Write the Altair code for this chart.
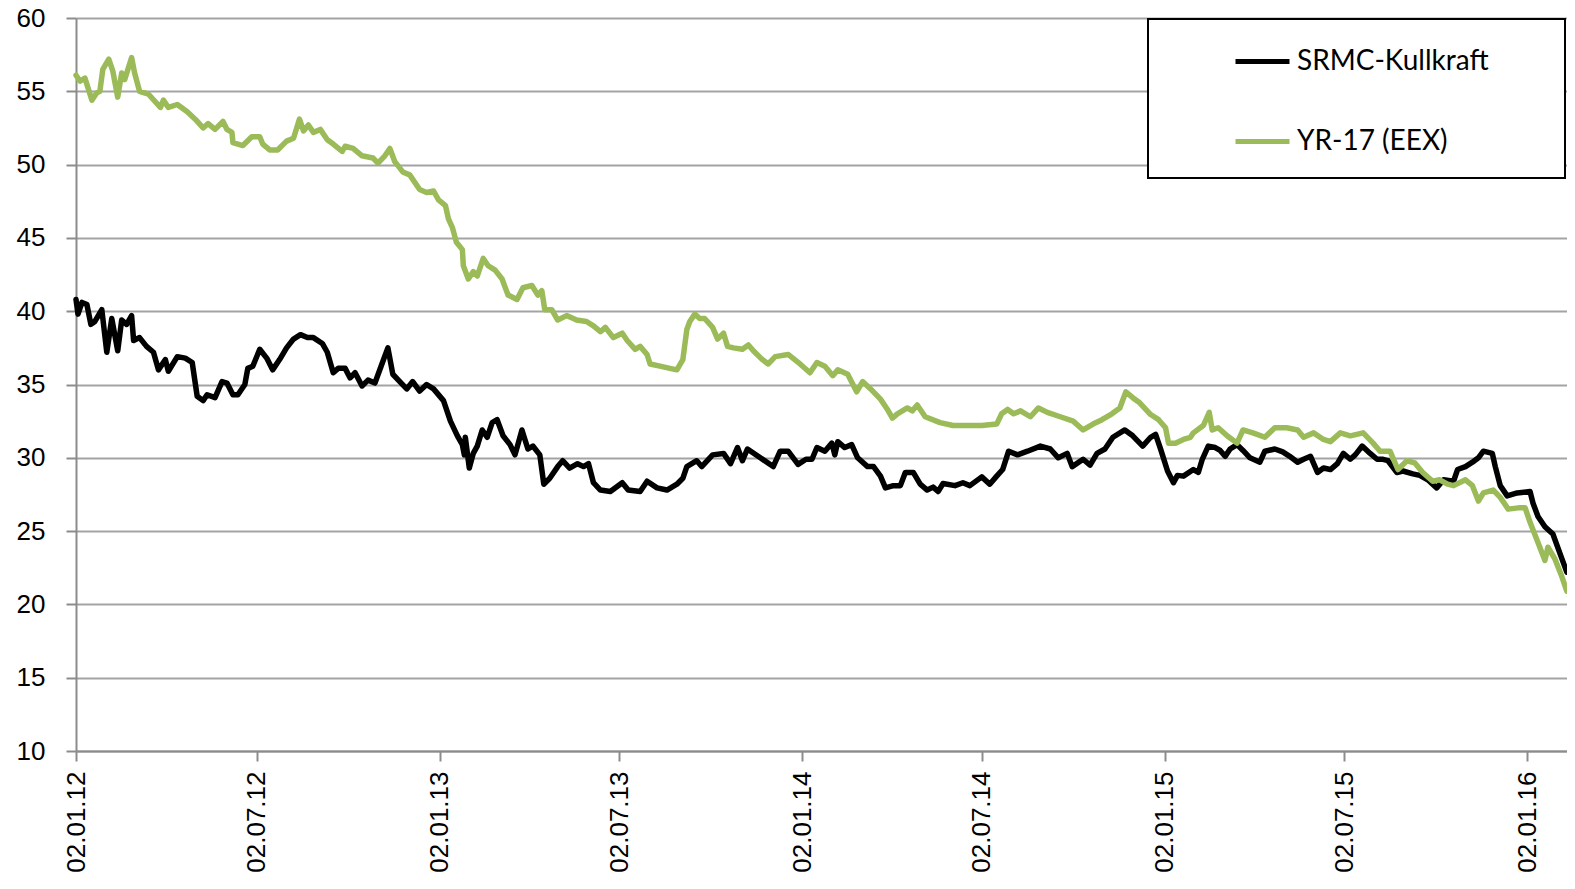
import altair as alt
import pandas as pd

START = "2012-01-02"

series_names = ["SRMC-Kullkraft", "YR-17 (EEX)"]
series_colors = ["#000000", "#9BBB59"]

# days after 02.01.2012 and values
srmc_days = [0, 2, 6, 11, 15, 19, 26, 31, 36, 42, 46, 51, 56, 58, 64, 71, 78, 83, 90, 93,
             102, 110, 117, 122, 128, 132, 140, 147, 152, 158, 163, 170, 173, 178, 185, 192, 198, 205, 212, 219,
             226, 233, 239, 248, 253, 259, 264, 271, 276, 281, 288, 294, 301, 308, 314, 319, 326, 333, 339, 346,
             353, 360, 370, 377, 384, 389, 391, 392, 396, 400, 404, 409, 414, 419, 424, 430, 437, 442, 449, 455,
             460, 467, 471, 477, 485, 490, 497, 505, 511, 516, 521, 528, 538, 550, 556, 568, 575, 585, 595, 605,
             611, 615, 625, 630, 641, 652, 659, 666, 671, 676, 689, 702, 709, 717, 727, 735, 741, 746, 754, 761,
             764, 767, 774, 781, 787, 797, 803, 810, 815, 823, 830, 835, 843, 850, 857, 863, 868, 873, 885, 893,
             900, 912, 920, 927, 933, 939, 948, 958, 971, 981, 989, 998, 1003, 1014, 1021, 1028, 1036, 1044, 1056, 1064,
             1074, 1082, 1087, 1092, 1099, 1105, 1109, 1115, 1125, 1130, 1134, 1140, 1147, 1152, 1157, 1162, 1169, 1175, 1182, 1192,
             1197, 1207, 1215, 1222, 1230, 1236, 1243, 1250, 1256, 1263, 1270, 1276, 1283, 1288, 1295, 1303, 1310, 1316, 1321, 1330,
             1336, 1346, 1353, 1361, 1370, 1377, 1387, 1391, 1399, 1406, 1412, 1417, 1426, 1429, 1434, 1441, 1451, 1464, 1467, 1472,
             1479, 1487, 1494, 1501, 1504, 1507]
srmc_vals = [40.8, 39.8, 40.6, 40.45, 39.1, 39.3, 40.1, 37.2, 39.5, 37.3, 39.4, 39.1, 39.7, 38.0, 38.2, 37.6, 37.2, 36.0, 36.7, 35.9,
             36.9, 36.8, 36.5, 34.2, 33.9, 34.3, 34.1, 35.2, 35.1, 34.3, 34.3, 35.0, 36.1, 36.25, 37.4, 36.8, 36.0, 36.7, 37.5, 38.1,
             38.4, 38.2, 38.2, 37.8, 37.2, 35.8, 36.1, 36.1, 35.45, 35.8, 34.9, 35.3, 35.1, 36.4, 37.5, 35.7, 35.2, 34.7, 35.2, 34.55,
             35.0, 34.7, 33.9, 32.5, 31.5, 30.9, 30.2, 31.4, 29.3, 30.3, 30.8, 31.9, 31.4, 32.4, 32.6, 31.5, 30.9, 30.2, 31.9, 30.6,
             30.8, 30.2, 28.2, 28.6, 29.4, 29.8, 29.3, 29.6, 29.4, 29.6, 28.3, 27.8, 27.7, 28.3, 27.8, 27.7, 28.4, 27.95, 27.8, 28.2,
             28.6, 29.4, 29.8, 29.4, 30.2, 30.3, 29.6, 30.7, 29.8, 30.6, 30.0, 29.4, 30.45, 30.45, 29.55, 29.9, 29.9, 30.7, 30.45, 31.0,
             30.2, 31.1, 30.7, 30.9, 30.0, 29.4, 29.4, 28.75, 27.95, 28.1, 28.1, 29.0, 29.0, 28.2, 27.8, 28.0, 27.7, 28.25, 28.1, 28.3,
             28.1, 28.7, 28.2, 28.75, 29.2, 30.45, 30.2, 30.45, 30.8, 30.6, 30.0, 30.3, 29.4, 29.9, 29.5, 30.3, 30.6, 31.4, 31.9, 31.5,
             30.8, 31.4, 31.6, 30.6, 29.1, 28.3, 28.8, 28.75, 29.2, 29.0, 29.9, 30.8, 30.7, 30.5, 30.1, 30.6, 30.9, 30.5, 30.0, 29.7,
             30.45, 30.6, 30.4, 30.1, 29.7, 29.9, 30.1, 29.0, 29.3, 29.2, 29.6, 30.3, 29.9, 30.2, 30.8, 30.3, 29.9, 29.9, 29.8, 29.0,
             29.1, 28.9, 28.8, 28.5, 27.95, 28.5, 28.4, 29.2, 29.4, 29.7, 30.0, 30.45, 30.3, 29.4, 28.1, 27.4, 27.6, 27.7, 26.9, 26.0,
             25.3, 24.8, 23.5, 22.2, 22.7, 22.5]

yr17_days = [0, 4, 9, 16, 21, 24, 27, 33, 37, 42, 46, 49, 56, 59, 64, 73, 85, 88, 93, 102,
             112, 120, 128, 133, 140, 148, 152, 157, 158, 168, 177, 185, 188, 195, 203, 212, 219, 225, 229, 234,
             239, 246, 253, 259, 268, 271, 279, 288, 299, 304, 311, 316, 321, 329, 336, 346, 353, 360, 365, 372,
             375, 379, 383, 389, 390, 395, 400, 404, 410, 415, 422, 429, 435, 444, 450, 459, 465, 469, 472, 479,
             485, 494, 504, 514, 521, 528, 533, 541, 550, 555, 563, 568, 575, 578, 588, 598, 605, 611, 615, 618,
             623, 628, 633, 641, 646, 652, 656, 662, 671, 677, 682, 691, 697, 704, 717, 729, 739, 746, 754, 762,
             767, 777, 786, 792, 800, 810, 817, 822, 827, 837, 842, 847, 855, 870, 883, 897, 912, 927, 932, 938,
             944, 951, 961, 969, 978, 991, 1004, 1014, 1024, 1033, 1043, 1051, 1057, 1064, 1071, 1082, 1090, 1097, 1100, 1107,
             1115, 1122, 1125, 1135, 1141, 1144, 1150, 1159, 1169, 1175, 1185, 1197, 1207, 1219, 1230, 1236, 1246, 1256, 1263, 1273,
             1283, 1296, 1306, 1313, 1323, 1331, 1340, 1348, 1356, 1366, 1373, 1381, 1387, 1399, 1406, 1412, 1417, 1427, 1434, 1442,
             1454, 1459, 1464, 1471, 1479, 1482, 1489, 1496, 1501, 1507]
yr17_vals = [56.1, 55.7, 55.9, 54.4, 54.9, 55.0, 56.5, 57.2, 56.4, 54.6, 56.25, 55.8, 57.3, 56.25, 55.0, 54.8, 53.9, 54.4, 53.9, 54.1,
             53.6, 53.1, 52.5, 52.8, 52.4, 52.95, 52.4, 52.2, 51.5, 51.3, 51.9, 51.9, 51.4, 51.0, 51.0, 51.6, 51.8, 53.1, 52.3, 52.7,
             52.2, 52.4, 51.7, 51.4, 50.9, 51.25, 51.1, 50.6, 50.45, 50.1, 50.6, 51.1, 50.2, 49.5, 49.3, 48.3, 48.1, 48.2, 47.6, 47.2,
             46.3, 45.7, 44.7, 44.2, 43.1, 42.2, 42.7, 42.4, 43.6, 43.1, 42.8, 42.2, 41.1, 40.8, 41.6, 41.75, 41.1, 41.4, 40.1, 40.1,
             39.4, 39.7, 39.4, 39.3, 39.0, 38.6, 38.9, 38.2, 38.5, 38.0, 37.4, 37.6, 37.05, 36.4, 36.25, 36.1, 36.0, 36.7, 38.75, 39.3,
             39.8, 39.5, 39.5, 38.9, 38.1, 38.5, 37.6, 37.5, 37.4, 37.7, 37.3, 36.7, 36.4, 36.9, 37.05, 36.4, 35.8, 36.5, 36.25, 35.6,
             36.0, 35.7, 34.5, 35.2, 34.7, 34.0, 33.3, 32.7, 33.0, 33.4, 33.2, 33.6, 32.8, 32.4, 32.2, 32.2, 32.2, 32.3, 33.0, 33.3,
             33.0, 33.2, 32.8, 33.4, 33.1, 32.8, 32.5, 31.9, 32.3, 32.6, 33.0, 33.4, 34.5, 34.1, 33.75, 32.95, 32.6, 32.05, 31.0, 31.0,
             31.25, 31.4, 31.7, 32.2, 33.1, 31.9, 32.05, 31.5, 31.0, 31.9, 31.7, 31.4, 32.05, 32.05, 31.9, 31.4, 31.7, 31.25, 31.1, 31.7,
             31.5, 31.7, 31.0, 30.45, 30.45, 29.2, 29.8, 29.65, 29.0, 28.4, 28.5, 28.2, 28.1, 28.5, 28.1, 27.05, 27.6, 27.8, 27.3, 26.5,
             26.6, 26.6, 25.6, 24.4, 23.0, 23.9, 23.1, 21.9, 20.9, 21.0]

y_ticks = [10, 15, 20, 25, 30, 35, 40, 45, 50, 55, 60]
x_tick_dates = [(2012, 1), (2012, 7), (2013, 1), (2013, 7), (2014, 1), (2014, 7), (2015, 1), (2015, 7), (2016, 1)]


def frame(days, vals, name):
    dates = pd.Timestamp(START) + pd.to_timedelta(days, unit="D")
    return pd.DataFrame({"date": dates, "value": vals, "series": name})


df = pd.concat([frame(srmc_days, srmc_vals, series_names[0]),
                frame(yr17_days, yr17_vals, series_names[1])], ignore_index=True)

AX = "#8c8c8c"
GRID = "#a3a3a3"
FONT = "Liberation Sans"
SPACER = "\u2800" * 3

x_enc = alt.X(
    "date:T",
    scale=alt.Scale(domain=[alt.DateTime(year=2012, month=1, date=2),
                            alt.DateTime(year=2016, month=2, date=11, hours=5)]),
    axis=alt.Axis(
        values=[alt.DateTime(year=y, month=m, date=2) for y, m in x_tick_dates],
        format="%d.%m.%y", labelAngle=270, labelAlign="right", labelBaseline="middle",
        labelPadding=10, tickSize=10, tickColor=AX, tickWidth=2,
        domainColor=AX, domainWidth=2, grid=False, title=None,
        labelFont=FONT, labelFontSize=26, labelColor="black", labelOverlap=False,
    ),
)
y_enc = alt.Y(
    "value:Q",
    scale=alt.Scale(domain=[10, 60], nice=False, zero=False),
    axis=alt.Axis(
        values=y_ticks, tickSize=10, tickColor=AX, tickWidth=2,
        domainColor=AX, domainWidth=2, gridColor=GRID, gridWidth=2, grid=True,
        labelPadding=21, title=None, labelFont=FONT, labelFontSize=26, labelColor="black",
    ),
)
color_enc = alt.Color(
    "series:N",
    scale=alt.Scale(domain=series_names, range=series_colors),
    legend=alt.Legend(
        orient="none", legendX=1072, legendY=1,
        title="\u00a0", titleOrient="bottom", titleFontSize=7, titlePadding=2,
        padding=13, rowPadding=36, symbolType="stroke", symbolSize=2916,
        symbolStrokeWidth=5, symbolOffset=72, labelOffset=5, labelLimit=600,
        labelFont="Lato", labelFontSize=28, labelColor="black",
        fillColor="white", strokeColor="black",
        labelExpr="datum.label + '" + SPACER + "'",
    ),
)

base = alt.Chart(df).mark_line(strokeWidth=5.5, strokeJoin="round", strokeCap="round").encode(
    x=x_enc, y=y_enc, color=color_enc
)

chart = alt.layer(
    base.transform_filter(alt.datum.series == series_names[0]),
    base.transform_filter(alt.datum.series == series_names[1]),
).properties(
    width=1491, height=733,
    padding={"left": 68, "top": 10, "right": 0, "bottom": 124},
    autosize=alt.AutoSizeParams(type="none"),
    background="white",
).configure_view(stroke=None).configure_legend(strokeWidth=2)

chart.save("out.html", embed_options={"renderer": "svg", "actions": False})
